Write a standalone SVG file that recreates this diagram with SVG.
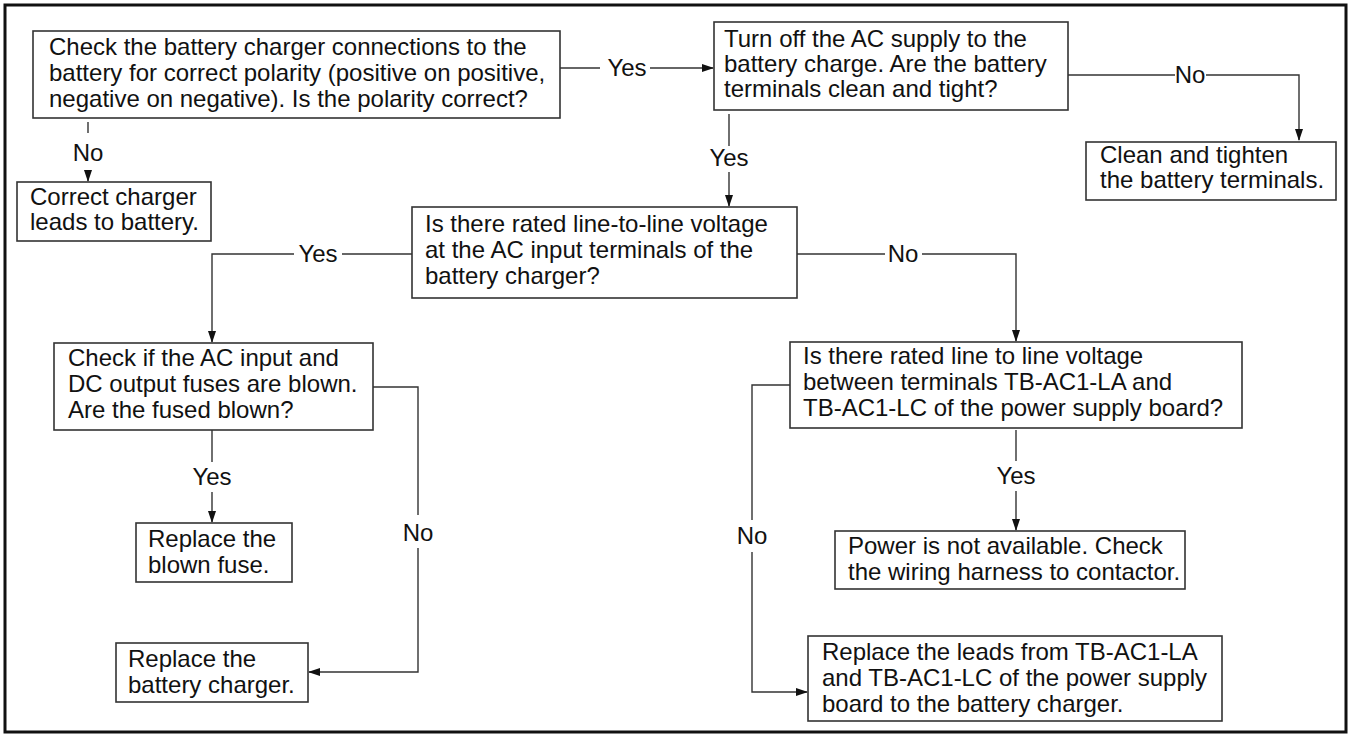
<svg xmlns="http://www.w3.org/2000/svg" width="1349" height="736" viewBox="0 0 1349 736">
<style>
.box{fill:#fff;stroke:#333;stroke-width:1.6}
.t{font-family:"Liberation Sans",Arial,sans-serif;font-size:24px;fill:#111}
.lbl{font-family:"Liberation Sans",Arial,sans-serif;font-size:24px;fill:#111;text-anchor:middle}
.c{fill:none;stroke:#333;stroke-width:1.4}
</style>
<defs>
<marker id="ah" markerWidth="12" markerHeight="8" refX="11" refY="4" orient="auto" markerUnits="userSpaceOnUse">
<path d="M0,0 L12,4 L0,8 Z" fill="#111"/>
</marker>
</defs>
<rect x="5" y="5" width="1341" height="727" fill="#fff" stroke="#111" stroke-width="3"/>
<g id="connectors">
<line class="c" x1="560" y1="68" x2="600" y2="68"/>
<line class="c" x1="650" y1="68" x2="713" y2="68" marker-end="url(#ah)"/>
<text class="lbl" x="627" y="76">Yes</text>
<line class="c" x1="1068" y1="75" x2="1175" y2="75"/>
<polyline class="c" points="1206,75 1299,75 1299,140" marker-end="url(#ah)"/>
<text class="lbl" x="1190" y="83">No</text>
<line class="c" x1="88" y1="122" x2="88" y2="133"/>
<line class="c" x1="88" y1="170" x2="88" y2="181" marker-end="url(#ah)"/>
<text class="lbl" x="88" y="161">No</text>
<line class="c" x1="729" y1="114" x2="729" y2="146"/>
<line class="c" x1="729" y1="172" x2="729" y2="206" marker-end="url(#ah)"/>
<text class="lbl" x="729" y="166">Yes</text>
<polyline class="c" points="412,254 342,254"/>
<polyline class="c" points="294,254 212,254 212,342" marker-end="url(#ah)"/>
<text class="lbl" x="318" y="262">Yes</text>
<polyline class="c" points="797,254 885,254"/>
<polyline class="c" points="922,254 1016,254 1016,341" marker-end="url(#ah)"/>
<text class="lbl" x="903" y="262">No</text>
<line class="c" x1="212" y1="430" x2="212" y2="462"/>
<line class="c" x1="212" y1="492" x2="212" y2="522" marker-end="url(#ah)"/>
<text class="lbl" x="212" y="485">Yes</text>
<polyline class="c" points="373,387 418,387 418,515"/>
<polyline class="c" points="418,548 418,672 309,672" marker-end="url(#ah)"/>
<text class="lbl" x="418" y="541">No</text>
<polyline class="c" points="790,385 752,385 752,520"/>
<polyline class="c" points="752,552 752,692 807,692" marker-end="url(#ah)"/>
<text class="lbl" x="752" y="544">No</text>
<line class="c" x1="1016" y1="430" x2="1016" y2="461"/>
<line class="c" x1="1016" y1="491" x2="1016" y2="530" marker-end="url(#ah)"/>
<text class="lbl" x="1016" y="484">Yes</text>
</g>
<g id="n1"><rect class="box" x="33" y="31" width="527" height="87"/>
<text class="t" x="49" y="55">Check the battery charger connections to the</text>
<text class="t" x="49" y="81">battery for correct polarity (positive on positive,</text>
<text class="t" x="49" y="107">negative on negative). Is the polarity correct?</text></g>
<g id="n2"><rect class="box" x="714" y="22" width="354" height="88"/>
<text class="t" x="724" y="47">Turn off the AC supply to the</text>
<text class="t" x="724" y="72">battery charge. Are the battery</text>
<text class="t" x="724" y="97">terminals clean and tight?</text></g>
<g id="n3"><rect class="box" x="1086" y="142" width="250" height="58"/>
<text class="t" x="1100" y="163">Clean and tighten</text>
<text class="t" x="1100" y="188">the battery terminals.</text></g>
<g id="n11"><rect class="box" x="17" y="182" width="194" height="59"/>
<text class="t" x="30" y="205">Correct charger</text>
<text class="t" x="30" y="230">leads to battery.</text></g>
<g id="n4"><rect class="box" x="412" y="207" width="385" height="91"/>
<text class="t" x="425" y="232">Is there rated line-to-line voltage</text>
<text class="t" x="425" y="258">at the AC input terminals of the</text>
<text class="t" x="425" y="284">battery charger?</text></g>
<g id="n5"><rect class="box" x="54" y="343" width="319" height="87"/>
<text class="t" x="68" y="366">Check if the AC input and</text>
<text class="t" x="68" y="392">DC output fuses are blown.</text>
<text class="t" x="68" y="418">Are the fused blown?</text></g>
<g id="n6"><rect class="box" x="790" y="342" width="452" height="86"/>
<text class="t" x="803" y="364">Is there rated line to line voltage</text>
<text class="t" x="803" y="390">between terminals TB-AC1-LA and</text>
<text class="t" x="803" y="416">TB-AC1-LC of the power supply board?</text></g>
<g id="n7"><rect class="box" x="136" y="523" width="156" height="59"/>
<text class="t" x="148" y="547">Replace the</text>
<text class="t" x="148" y="573">blown fuse.</text></g>
<g id="n8"><rect class="box" x="116" y="643" width="192" height="59"/>
<text class="t" x="128" y="667">Replace the</text>
<text class="t" x="128" y="693">battery charger.</text></g>
<g id="n10"><rect class="box" x="835" y="531" width="350" height="58"/>
<text class="t" x="848" y="554">Power is not available. Check</text>
<text class="t" x="848" y="580">the wiring harness to contactor.</text></g>
<g id="n9"><rect class="box" x="808" y="636" width="414" height="85"/>
<text class="t" x="822" y="660">Replace the leads from TB-AC1-LA</text>
<text class="t" x="822" y="686">and TB-AC1-LC of the power supply</text>
<text class="t" x="822" y="712">board to the battery charger.</text></g>
</svg>
